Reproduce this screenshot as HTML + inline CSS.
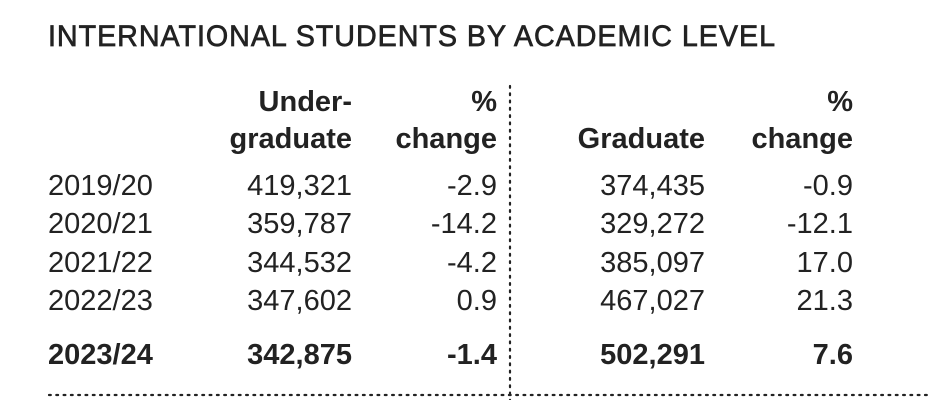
<!DOCTYPE html>
<html><head><meta charset="utf-8"><style>
html,body{margin:0;padding:0;background:#fff;width:932px;height:400px;overflow:hidden}
text{font-family:"Liberation Sans",sans-serif;fill:#222;font-size:29px}
.b{font-weight:bold}
.h{font-weight:bold;fill:#222}
</style></head><body>
<svg width="932" height="400" viewBox="0 0 932 400" xmlns="http://www.w3.org/2000/svg">
<text x="48" y="46" textLength="728" lengthAdjust="spacingAndGlyphs" style="font-size:30px;letter-spacing:1px;stroke:#222;stroke-width:0.7">INTERNATIONAL STUDENTS BY ACADEMIC LEVEL</text>
<g text-anchor="end" class="h">
<text x="352" y="111">Under-</text>
<text x="352" y="148">graduate</text>
<text x="497" y="111">%</text>
<text x="497" y="148">change</text>
<text x="705" y="148">Graduate</text>
<text x="853" y="111">%</text>
<text x="853" y="148">change</text>
</g>
<g>
<text x="48" y="195">2019/20</text>
<text x="48" y="233">2020/21</text>
<text x="48" y="272">2021/22</text>
<text x="48" y="310">2022/23</text>
<text x="48" y="364" class="b">2023/24</text>
</g>
<g text-anchor="end">
<text x="352" y="195">419,321</text><text x="497" y="195">-2.9</text><text x="705" y="195">374,435</text><text x="853" y="195">-0.9</text>
<text x="352" y="233">359,787</text><text x="497" y="233">-14.2</text><text x="705" y="233">329,272</text><text x="853" y="233">-12.1</text>
<text x="352" y="272">344,532</text><text x="497" y="272">-4.2</text><text x="705" y="272">385,097</text><text x="853" y="272">17.0</text>
<text x="352" y="310">347,602</text><text x="497" y="310">0.9</text><text x="705" y="310">467,027</text><text x="853" y="310">21.3</text>
<g class="b"><text x="352" y="364">342,875</text><text x="497" y="364">-1.4</text><text x="705" y="364">502,291</text><text x="853" y="364">7.6</text></g>
</g>
<line x1="510" y1="86" x2="510" y2="400" stroke="#222" stroke-width="2.2" stroke-dasharray="1.8 5.5" stroke-linecap="round"/>
<line x1="49" y1="395" x2="932" y2="395" stroke="#222" stroke-width="2.2" stroke-dasharray="1.8 5.5" stroke-linecap="round"/>
</svg>
</body></html>
